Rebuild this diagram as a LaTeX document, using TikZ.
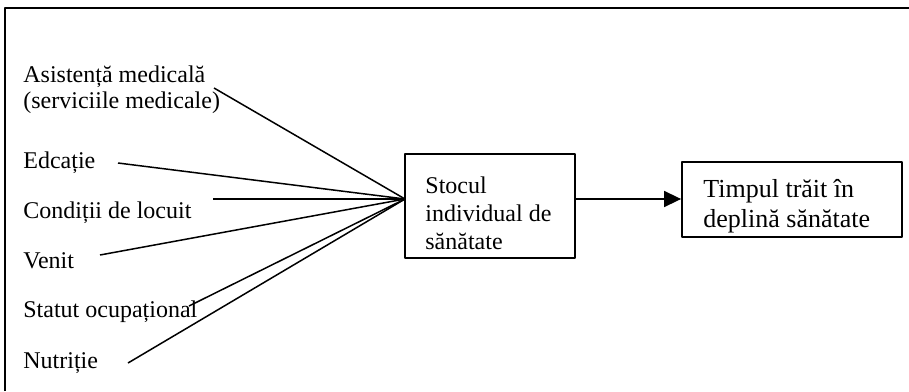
\documentclass[tikz,border=0pt]{standalone}
\usepackage{fontspec}
\setmainfont{Liberation Serif}
\usetikzlibrary{arrows.meta}
\begin{document}
\begin{tikzpicture}[x=0.5pt,y=-0.5pt,font=\fontsize{12}{13}\selectfont,line join=round,>={Triangle[length=8.5pt,width=8pt]}]
    \tikzset{
        fact/.style={anchor=base west,inner sep=0pt,align=left},
        box/.style={draw,line width=0.9pt,inner sep=0pt},
        link/.style={line width=0.75pt}
    }
    \useasboundingbox (0,0) rectangle (909,391);
    % outer frame
    \draw[line width=1pt] (5,391) -- (5,8) -- (909,8);
    % factors (base = last line)
    \node[fact] (asist) at (23,108) {Asistență medicală\\(serviciile medicale)};
    \node[fact] (edc) at (23,168) {Edcație};
    \node[fact] (cond) at (23,218) {Condiții de locuit};
    \node[fact] (venit) at (23,268) {Venit};
    \node[fact] (statut) at (23,317) {Statut ocupațional};
    \node[fact] (nutr) at (23,368) {Nutriție};
    % boxes
    \node[box,minimum width=85pt,minimum height=52pt] (stoc) at (490,206) {};
    \node[fact,font=\fontsize{12}{14}\selectfont] (stoctxt) at (425,249) {Stocul\\individual de\\sănătate};
    \node[box,minimum width=110pt,minimum height=37.5pt] (timp) at (792,199.5) {};
    \node[fact,font=\fontsize{13}{15}\selectfont] (timptxt) at (703,227) {Timpul trăit în\\deplină sănătate};
    \coordinate (hub) at (405,199);
    \coordinate (a1) at (214,88);
    \coordinate (a2) at (118,163);
    \coordinate (a3) at (213,199);
    \coordinate (a4) at (100,255);
    \coordinate (a5) at (189,306);
    \coordinate (a6) at (128,363);
    \foreach \p in {a1,a2,a3,a4,a5,a6}
        \draw[link] (\p) -- (hub);
    \draw[link,->] (stoc.east |- hub) -- (timp.west |- hub);
\end{tikzpicture}
\end{document}
